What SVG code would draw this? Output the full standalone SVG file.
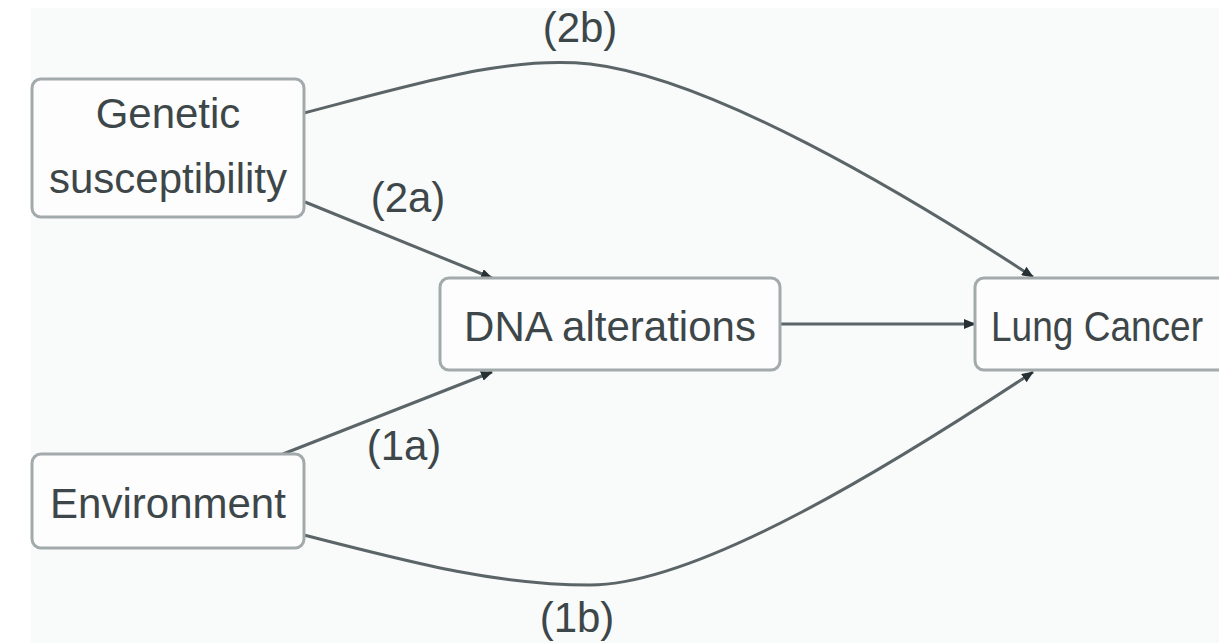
<svg xmlns="http://www.w3.org/2000/svg" width="1219" height="643" viewBox="0 0 1219 643">
  <style>
    .box { fill: #fdfdfd; stroke: #a3aaab; stroke-width: 3; }
    .lbl { font-family: "Liberation Sans", Arial, sans-serif; font-size: 42px; fill: #3d4749; text-anchor: middle; }
    .edge { fill: none; stroke: #5b6567; stroke-width: 3; }
  </style>
  <defs>
    <marker id="arr" viewBox="0 0 12 10" refX="11" refY="5" markerWidth="12" markerHeight="10" markerUnits="userSpaceOnUse" orient="auto">
      <path d="M0,0 L12,5 L0,10 Z" fill="#273133"/>
    </marker>
  </defs>
  <rect x="31" y="8" width="1188" height="635" fill="#f9fafa"/>

  <g id="connectors">
    <path class="edge" d="M780,324 L975,324" marker-end="url(#arr)"/>
    <path class="edge" d="M305,202 L492,278" marker-end="url(#arr)"/>
    <path class="edge" d="M283,454 L492,372" marker-end="url(#arr)"/>
    <path class="edge" d="M304,113 C430,80 510,56 590,64 C710,78 900,190 1033,277" marker-end="url(#arr)"/>
    <path class="edge" d="M304,535 C420,565 500,585 590,585 C700,585 900,460 1033,372" marker-end="url(#arr)"/>
  </g>

  <g id="edge-labels">
    <text class="lbl" x="580" y="42">(2b)</text>
    <text class="lbl" x="408" y="212">(2a)</text>
    <text class="lbl" x="404" y="460">(1a)</text>
    <text class="lbl" x="577" y="632">(1b)</text>
  </g>

  <g id="genetic">
    <rect class="box" x="32" y="79" width="272" height="138" rx="9"/>
    <text class="lbl" x="168" y="128">Genetic</text>
    <text class="lbl" x="168" y="193">susceptibility</text>
  </g>
  <g id="dna">
    <rect class="box" x="440" y="278" width="340" height="92" rx="9"/>
    <text class="lbl" x="610" y="341">DNA alterations</text>
  </g>
  <g id="lung">
    <rect class="box" x="975" y="278" width="300" height="92" rx="9"/>
    <text class="lbl" x="991" y="341" style="text-anchor:start" textLength="212" lengthAdjust="spacingAndGlyphs">Lung Cancer</text>
  </g>
  <g id="environment">
    <rect class="box" x="32" y="454" width="272" height="94" rx="9"/>
    <text class="lbl" x="168" y="518">Environment</text>
  </g>
</svg>
